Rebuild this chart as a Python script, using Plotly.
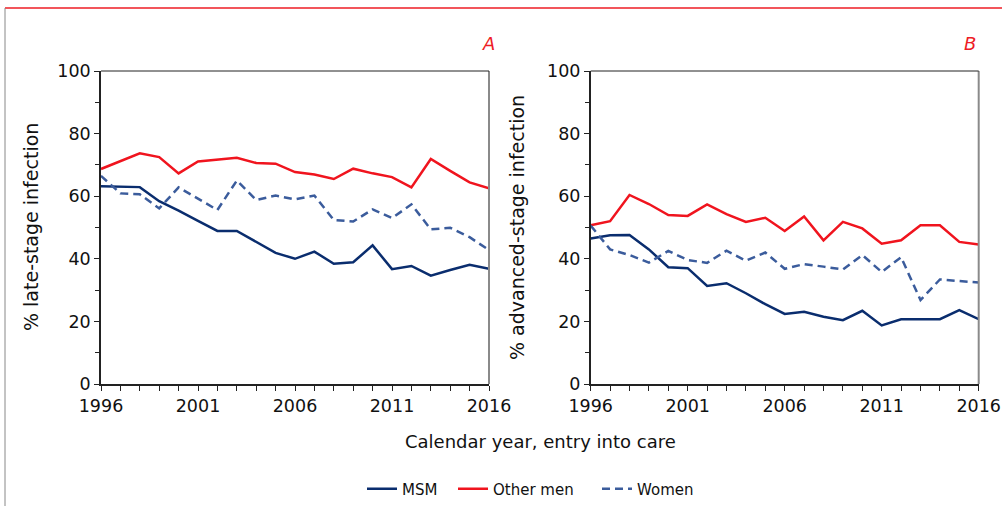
import plotly.graph_objects as go

years = list(range(1996, 2017))

# Panel A: % late-stage infection
a_msm = [63.2, 63.0, 62.9, 58.4, 55.4, 52.1, 48.9, 48.9, 45.3, 41.9, 40.0,
         42.3, 38.4, 38.9, 44.3, 36.7, 37.7, 34.6, 36.4, 38.1, 36.8]
a_other = [68.7, 71.2, 73.7, 72.5, 67.3, 71.1, 71.7, 72.3, 70.6, 70.4, 67.7,
           66.9, 65.5, 68.8, 67.3, 66.1, 62.8, 71.9, 68.1, 64.4, 62.5]
a_women = [66.5, 60.9, 60.6, 56.1, 62.8, 59.3, 55.6, 65.0, 58.8, 60.2, 59.0,
           60.2, 52.4, 51.9, 55.8, 53.0, 57.4, 49.4, 49.9, 46.9, 42.8]

# Panel B: % advanced-stage infection
b_msm = [46.5, 47.5, 47.6, 43.0, 37.3, 37.0, 31.3, 32.2, 29.0, 25.5, 22.4,
         23.1, 21.5, 20.4, 23.4, 18.7, 20.7, 20.7, 20.7, 23.6, 20.7]
b_other = [50.7, 52.0, 60.4, 57.5, 54.0, 53.7, 57.4, 54.3, 51.8, 53.1, 48.9,
           53.5, 45.9, 51.8, 49.7, 44.8, 45.9, 50.7, 50.7, 45.4, 44.6]
b_women = [50.6, 43.0, 41.2, 38.8, 42.5, 39.6, 38.7, 42.6, 39.4, 42.0, 36.8,
           38.3, 37.5, 36.6, 41.2, 35.8, 40.5, 26.8, 33.4, 33.0, 32.4]

x_ticks = [1996, 2001, 2006, 2011, 2016]
y_ticks = [0, 20, 40, 60, 80, 100]

C_MSM = "#0a2d6e"
C_OTHER = "#f0141e"
C_WOMEN = "#3b5c9c"
FONT = "DejaVu Sans"
W, H = 1002, 506

fig = go.Figure()

def add_panel(msm, other, women, xa, ya, show):
    fig.add_trace(go.Scatter(x=years, y=msm, mode="lines", name="MSM",
                             line=dict(color=C_MSM, width=2.5),
                             xaxis=xa, yaxis=ya, showlegend=show, legend="legend"))
    fig.add_trace(go.Scatter(x=years, y=other, mode="lines", name="Other men",
                             line=dict(color=C_OTHER, width=2.5),
                             xaxis=xa, yaxis=ya, showlegend=show, legend="legend2"))
    fig.add_trace(go.Scatter(x=years, y=women, mode="lines", name="Women",
                             line=dict(color=C_WOMEN, width=2.5, dash="8px,5px"),
                             xaxis=xa, yaxis=ya, showlegend=show, legend="legend3"))

add_panel(a_msm, a_other, a_women, "x", "y", True)
add_panel(b_msm, b_other, b_women, "x2", "y2", False)

xcommon = dict(range=[1996, 2016], tickvals=x_ticks, ticks="outside", ticklen=5,
               tickwidth=1.3, tickcolor="#222", showline=True, linecolor="#222",
               linewidth=1.5, showgrid=False, zeroline=False, automargin=False,
               tickfont=dict(family=FONT, size=17.5, color="#111"),
               minor=dict(dtick=1, tick0=1996, ticks="outside", ticklen=5,
                          tickwidth=1.3, tickcolor="#222", showgrid=False))
ycommon = dict(range=[0, 100], tickvals=y_ticks, ticks="outside", ticklen=5,
               tickwidth=1.3, tickcolor="#222", showline=True, linecolor="#222",
               linewidth=1.5, showgrid=False, zeroline=False, automargin=False,
               tickfont=dict(family=FONT, size=17.5, color="#111"),
               minor=dict(dtick=10, tick0=0, ticks="outside", ticklen=4,
                          tickwidth=1.3, tickcolor="#222", showgrid=False),
               domain=[1 - 384 / H, 1 - 71 / H])

legcommon = dict(orientation="h", y=1 - 489 / H, yanchor="middle", xanchor="left",
                 font=dict(family=FONT, size=15, color="#111"),
                 itemwidth=30, bgcolor="rgba(0,0,0,0)", borderwidth=0)

fig.update_layout(
    template="none",
    width=W, height=H,
    margin=dict(l=0, r=0, t=0, b=0, pad=0),
    paper_bgcolor="white", plot_bgcolor="white",
    font=dict(family=FONT, color="#111"),
    xaxis=dict(domain=[101 / W, 489 / W], anchor="y", **xcommon),
    yaxis=dict(anchor="x", **ycommon),
    xaxis2=dict(domain=[590.7 / W, 978.7 / W], anchor="y2", **xcommon),
    yaxis2=dict(anchor="x2", **ycommon),
    legend=dict(x=(367 - 5) / W, **legcommon),
    legend2=dict(x=(458 - 5) / W, **legcommon),
    legend3=dict(x=(602 - 5) / W, **legcommon),
    showlegend=True,
)

# plot frame: thin black top, gray right
for xd, yd in [("x domain", "y domain"), ("x2 domain", "y2 domain")]:
    fig.add_shape(type="line", xref=xd, yref=yd, x0=1, x1=1, y0=0, y1=1,
                  line=dict(color="#8a8a8a", width=2))
    fig.add_shape(type="line", xref=xd, yref=yd, x0=0, x1=1, y0=1, y1=1,
                  line=dict(color="#222", width=1))
# outer border of the figure
fig.add_shape(type="line", xref="paper", yref="paper", x0=5 / W, x1=1,
              y0=1 - 8 / H, y1=1 - 8 / H, line=dict(color="#ee1c25", width=1.5))
fig.add_shape(type="line", xref="paper", yref="paper", x0=5 / W, x1=5 / W,
              y0=0, y1=1 - 8 / H, line=dict(color="#888", width=1))

def ann(text, x, y, size, color="#111", angle=0, italic=False):
    fig.add_annotation(text=text, xref="paper", yref="paper", x=x / W, y=1 - y / H,
                       showarrow=False, xanchor="center", yanchor="middle",
                       textangle=angle,
                       font=dict(family=FONT, size=size, color=color,
                                 style="italic" if italic else "normal"))

ann("A", 488, 44, 18, "#ee1c25", italic=True)
ann("B", 970, 44, 18, "#ee1c25", italic=True)
ann("% late-stage infection", 31, 227, 19, angle=-90)
ann("% advanced-stage infection", 517, 228, 19, angle=-90)
ann("Calendar year, entry into care", 540, 441, 18)

fig.write_html("out.html",
               config={"displayModeBar": False},
               post_script="document.body.style.margin='0';"
                           "document.body.style.overflow='hidden';")
